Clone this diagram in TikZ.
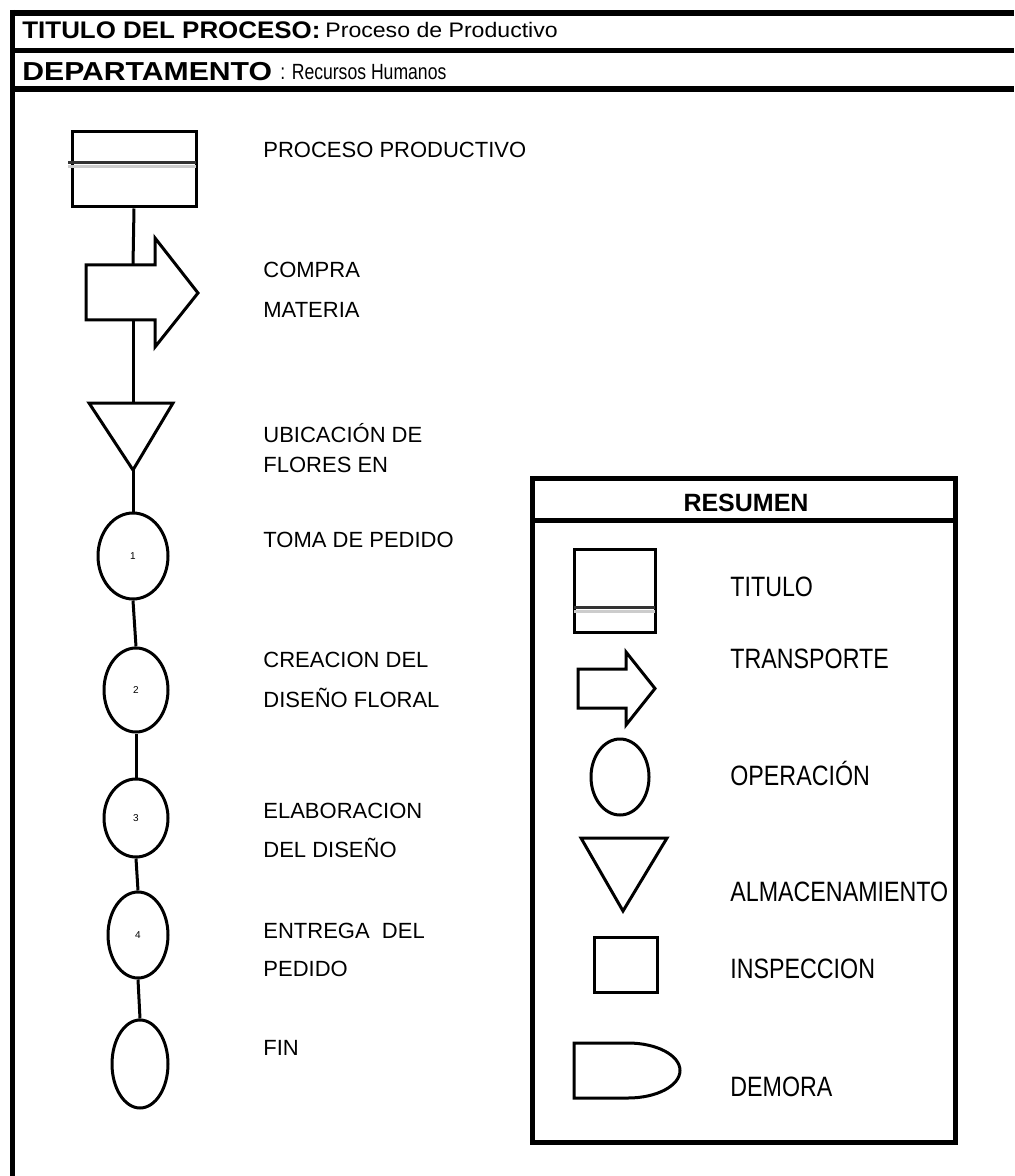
\documentclass[tikz,border=0pt]{standalone}
\usepackage{fontspec}
\setmainfont{Liberation Sans}
\usepackage{graphicx}
\usetikzlibrary{shapes.geometric}
\newcommand\hsc[2]{\scalebox{#1}[1]{#2}}

\begin{document}
\begin{tikzpicture}[x=0.5pt,y=-0.5pt,
  lbl/.style={anchor=base west,inner sep=0pt,font=\fontsize{11}{13}\selectfont},
  leg/.style={anchor=base west,inner sep=0pt,font=\fontsize{14}{16}\selectfont},
  op/.style={ellipse,draw,line width=1.5pt,inner sep=0pt,font=\fontsize{5}{6}\selectfont},
  box/.style={rectangle,draw,line width=1.5pt,inner sep=0pt},
  con/.style={line width=1.5pt}]
\useasboundingbox (0,0) rectangle (1014,1176);

% marco
\draw[line width=3pt](10,13)--(1014,13);
\draw[line width=2.5pt](12.5,10)--(12.5,1176);
\draw[line width=2.5pt](12.5,50.5)--(1014,50.5);
\draw[line width=3pt](12.5,89)--(1014,89);

\node[anchor=base west,inner sep=0pt] (tit) at (22,39) {\fontsize{12}{14}\selectfont\hsc{1.08}{\textbf{TITULO DEL PROCESO:}}};
\node[anchor=base west,inner sep=0pt] (titv) at (325,38) {\fontsize{10.5}{12}\selectfont\hsc{1.1}{Proceso de Productivo}};
\node[anchor=base west,inner sep=0pt] (dep) at (22,81) {\fontsize{13}{15}\selectfont\hsc{1.16}{\textbf{DEPARTAMENTO}}};
\node[anchor=base west,inner sep=0pt] (depv) at (280,80) {\fontsize{11}{13}\selectfont\hsc{0.8}{: Recursos Humanos}};

% diagrama
\node[box,minimum width=62pt,minimum height=37.5pt] (proc) at (134,169.5) {};
\draw[gray!40,line width=1.5pt](68,167)--(196,167);
\draw[black!80,line width=1.5pt](68,163)--(196,163);

\coordinate (arrT) at (133,265);
\coordinate (arrB) at (133,320);
\draw[line width=1.5pt](155,320)--(86,320)--(86,265)--(155,265)--(155,238)--(198,293)--(155,347)--cycle;

\coordinate (triT) at (133,403);
\coordinate (triB) at (133,470);
\draw[line width=1.5pt](89,403)--(173,403)--(triB)--cycle;

\node[op,minimum width=35pt,minimum height=43pt] (op1) at (133,556) {1};
\node[op,minimum width=32pt,minimum height=42pt] (op2) at (136,690) {2};
\node[op,minimum width=32pt,minimum height=39pt] (op3) at (136,818) {3};
\node[op,minimum width=30pt,minimum height=43pt] (op4) at (138,935) {4};
\node[op,minimum width=28pt,minimum height=44pt] (fin) at (140,1064) {};

\draw[con](proc.south)--(arrT);
\draw[con](arrB)--(triT);
\draw[con](triB)--(op1.north);
\draw[con](op1.south)--(op2.north);
\draw[con](op2.south)--(op3.north);
\draw[con](op3.south)--(op4.north);
\draw[con](op4.south)--(fin.north);

\node[lbl] (t1) at (263,158) {PROCESO PRODUCTIVO};
\node[lbl] (t2) at (263,278) {COMPRA};
\node[lbl] (t2b) at (263,317) {MATERIA};
\node[lbl] (t3) at (263,442) {UBICACIÓN DE};
\node[lbl] (t3b) at (263,472) {FLORES EN};
\node[lbl] (t4) at (263,547) {TOMA DE PEDIDO};
\node[lbl] (t5) at (263,667) {CREACION DEL};
\node[lbl] (t5b) at (263,707) {DISEÑO FLORAL};
\node[lbl] (t6) at (263,818) {ELABORACION};
\node[lbl] (t6b) at (263,857) {DEL DISEÑO};
\node[lbl] (t7) at (263,938) {ENTREGA\ \ DEL};
\node[lbl] (t7b) at (263,976) {PEDIDO};
\node[lbl] (t8) at (263,1055) {FIN};

% resumen
\draw[line width=2.5pt](532,478) rectangle (955,1142);
\draw[line width=2.5pt](532,520)--(955,520);
\node[anchor=base,inner sep=0pt] (res) at (746,511) {\fontsize{12.5}{14}\selectfont\textbf{RESUMEN}};

\node[box,minimum width=40.5pt,minimum height=41.5pt] (ltit) at (614.5,590.5) {};
\draw[gray!40,line width=1.5pt](574,611)--(655,611);
\draw[black!80,line width=1.5pt](574,607)--(655,607);
\draw[line width=1.5pt](626,708)--(578,708)--(578,669)--(626,669)--(626,652)--(655,688.5)--(626,725)--cycle;
\node[op,minimum width=29pt,minimum height=38pt] (lop) at (620,777) {};
\draw[line width=1.5pt](581,838)--(667,838)--(623,911)--cycle;
\node[box,minimum width=31.5pt,minimum height=27.5pt] (lins) at (625.5,964.5) {};
\draw[line width=1.5pt](628,1043)--(574,1043)--(574,1098)--(628,1098)
  arc[start angle=90,end angle=-90,x radius=52,y radius=27.5];

\node[leg] (l1) at (730,596) {\hsc{0.83}{TITULO}};
\node[leg] (l2) at (730,668) {\hsc{0.83}{TRANSPORTE}};
\node[leg] (l3) at (730,785) {\hsc{0.83}{OPERACIÓN}};
\node[leg] (l4) at (730,901) {\hsc{0.83}{ALMACENAMIENTO}};
\node[leg] (l5) at (730,978) {\hsc{0.83}{INSPECCION}};
\node[leg] (l6) at (730,1096) {\hsc{0.83}{DEMORA}};

\end{tikzpicture}
\end{document}
